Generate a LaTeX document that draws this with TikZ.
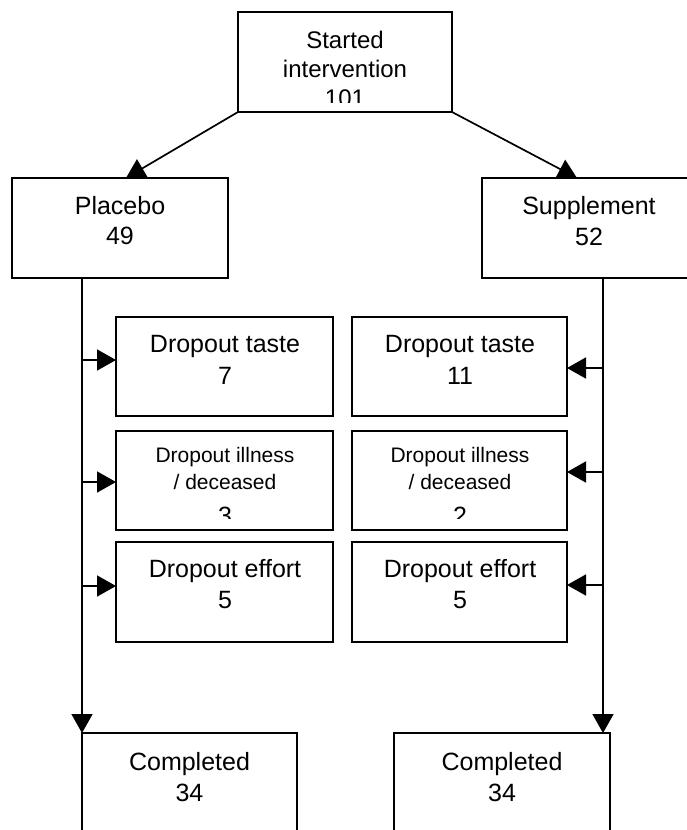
\documentclass[tikz,border=0pt]{standalone}
\usepackage{fontspec}
\setmainfont{Liberation Sans}
\usetikzlibrary{arrows.meta}
\begin{document}
\begin{tikzpicture}[x=1pt,y=-1pt,
  box/.style={draw, line width=1.7pt, fill=white, inner sep=0pt, outer sep=0pt},
  arr/.style={line width=1.7pt, -{Triangle[length=19pt,width=21pt]}},
  plain/.style={line width=1.7pt},
  lbl/.style={anchor=base, inner sep=0pt, font=\fontsize{25}{29}\selectfont},
  lbls/.style={anchor=base, inner sep=0pt, font=\fontsize{24}{29}\selectfont},
  lblt/.style={anchor=base, inner sep=0pt, font=\fontsize{21}{26}\selectfont}]
\useasboundingbox (0,0) rectangle (687,830);
\clip (0,0) rectangle (687,830);
% boxes
\node[box, minimum width=214pt, minimum height=100pt] (top) at (345,62) {};
\node[box, minimum width=216pt, minimum height=100pt] (plc) at (120,228) {};
\node[box, minimum width=218pt, minimum height=100pt] (sup) at (591,228) {};
\node[box, minimum width=217pt, minimum height=99pt] (d1) at (224.5,366.5) {};
\node[box, minimum width=217pt, minimum height=99pt] (d2) at (224.5,480.5) {};
\node[box, minimum width=217pt, minimum height=100pt] (d3) at (224.5,592) {};
\node[box, minimum width=215pt, minimum height=99pt] (e1) at (459.5,366.5) {};
\node[box, minimum width=215pt, minimum height=99pt] (e2) at (459.5,480.5) {};
\node[box, minimum width=215pt, minimum height=100pt] (e3) at (459.5,592) {};
\node[box, minimum width=215pt, minimum height=140pt] (c1) at (189.5,803) {};
\node[box, minimum width=216pt, minimum height=140pt] (c2) at (502,803) {};
% texts
\begin{scope}
\clip (238,12) rectangle (452,102);
\node[lbls] (t1) at (345,48) {Started};
\node[lbls] (t2) at (345,77) {intervention};
\node[lbls] (t3) at (345,106) {101};
\end{scope}
\node[lbl] (p1) at (120,214) {Placebo};
\node[lbl] (p2) at (120,244) {49};
\node[lbl] (s1) at (589,214) {Supplement};
\node[lbl] (s2) at (589,245) {52};
\node[lbl] (a1) at (225,352) {Dropout taste};
\node[lbl] (a2) at (225,384) {7};
\node[lbl] (b1) at (460,352) {Dropout taste};
\node[lbl] (b2) at (460,384) {11};
\node[lblt] (a3) at (225,462) {Dropout illness};
\node[lblt] (a4) at (225,489) {/ deceased};
\node[lblt] (b3) at (460,462) {Dropout illness};
\node[lblt] (b4) at (460,489) {/ deceased};
\begin{scope}
\clip (116,431) rectangle (567,518);
\node[lbl] (a5) at (225,524) {3};
\node[lbl] (b5) at (460,524) {2};
\end{scope}
\node[lbl] (a6) at (225,577) {Dropout effort};
\node[lbl] (a7) at (225,608) {5};
\node[lbl] (b6) at (460,577) {Dropout effort};
\node[lbl] (b7) at (460,608) {5};
\node[lbl] (c1a) at (189.5,770) {Completed};
\node[lbl] (c1b) at (189.5,801) {34};
\node[lbl] (c2a) at (502,770) {Completed};
\node[lbl] (c2b) at (502,801) {34};
% connectors
\draw[arr] (top.south west) -- ([xshift=114pt]plc.north west);
\draw[arr] (top.south east) -- ([xshift=95pt]sup.north west);
\coordinate (pl) at ([xshift=70pt]plc.south west);
\coordinate (sr) at ([xshift=121pt]sup.south west);
\draw[arr] (pl) -- (c1.north west);
\draw[arr] (sr) -- ([xshift=-7pt]c2.north east);
\coordinate (ta) at ([yshift=6.5pt]d1.west);
\coordinate (tb) at ([yshift=-1.5pt]d2.west);
\coordinate (tc) at ([yshift=6pt]d3.west);
\coordinate (ua) at ([yshift=-1.5pt]e1.east);
\coordinate (ub) at ([yshift=8.5pt]e2.east);
\coordinate (uc) at ([yshift=7pt]e3.east);
\draw[arr] (pl |- ta) -- (ta);
\draw[arr] (pl |- tb) -- (tb);
\draw[arr] (pl |- tc) -- (tc);
\draw[arr] (sr |- ua) -- (ua);
\draw[arr] (sr |- ub) -- (ub);
\draw[arr] (sr |- uc) -- (uc);
\end{tikzpicture}
\end{document}
